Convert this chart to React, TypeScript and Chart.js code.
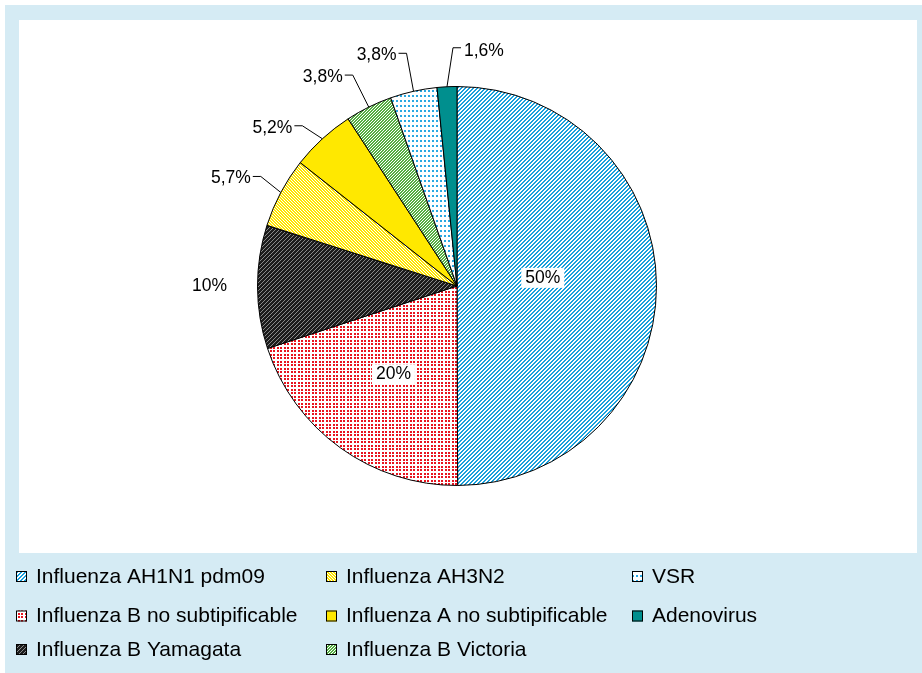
import React, { useEffect, useRef } from 'react';
import { Chart, registerables } from 'chart.js';

Chart.register(...registerables);

// ---- data ----
const categories = [
  'Influenza AH1N1 pdm09',
  'Influenza B no subtipificable',
  'Influenza B Yamagata',
  'Influenza AH3N2',
  'Influenza A no subtipificable',
  'Influenza B Victoria',
  'VSR',
  'Adenovirus',
];
const values = [50, 20, 10, 5.7, 5.2, 3.8, 3.8, 1.6];
const valueLabels = ['50%', '20%', '10%', '5,7%', '5,2%', '3,8%', '3,8%', '1,6%'];

// ---- label layout (relative to each arc) ----
type Layout =
  | { kind: 'inside'; r: number; dy: number }
  | { kind: 'outside'; r: number; dy: number }
  | { kind: 'leader'; elbow: [number, number]; side: number };
const labelLayout: Layout[] = [
  { kind: 'inside', r: 0.43, dy: -8 },
  { kind: 'inside', r: 0.545, dy: 0 },
  { kind: 'outside', r: 1.24, dy: -1 },
  { kind: 'leader', elbow: [-20, -16], side: -1 },
  { kind: 'leader', elbow: [-20, -13], side: -1 },
  { kind: 'leader', elbow: [-16, -32], side: -1 },
  { kind: 'leader', elbow: [-7, -38], side: -1 },
  { kind: 'leader', elbow: [6, -39], side: 1 },
];

const legendCols = [16, 326, 632];
const legendRows = [576, 615.5, 649];

function makePattern(w: number, h: number, bg: string, fg: string, test: (x: number, y: number) => boolean) {
  const c = document.createElement('canvas');
  c.width = w;
  c.height = h;
  const ctx = c.getContext('2d')!;
  ctx.fillStyle = bg;
  ctx.fillRect(0, 0, w, h);
  ctx.fillStyle = fg;
  for (let y = 0; y < h; y++) {
    for (let x = 0; x < w; x++) {
      if (test(x, y)) ctx.fillRect(x, y, 1, 1);
    }
  }
  return ctx.createPattern(c, 'repeat')!;
}

function buildFills() {
  return [
    makePattern(4, 4, '#ffffff', '#1aa0dc', (x, y) => (x + y) % 4 < 2),
    makePattern(7, 7, '#ffffff', '#e8141f', (x, y) => (x % 7 === 0 || x % 7 === 1 || x % 7 === 4 || x % 7 === 5) && (y % 7 === 0 || y % 7 === 1 || y % 7 === 4 || y % 7 === 5)),
    makePattern(4, 4, '#1c1c1c', '#8a8a8a', (x, y) => (x + y) % 4 === 0),
    makePattern(3, 3, '#ffe600', '#ffffff', (x, y) => (x - y + 9) % 3 === 0),
    '#ffe800',
    makePattern(3, 3, '#55ae42', '#ffffff', (x, y) => (x + y) % 3 === 0),
    makePattern(4, 5, '#ffffff', '#2aa8e2', (x, y) => x % 4 < 2 && y % 5 < 2),
    '#008f8e',
  ];
}

const LABEL_FONT = '17.5px "Liberation Sans", Arial, sans-serif';
const LEGEND_FONT = '21px "Liberation Sans", Arial, sans-serif';

const backgroundPlugin = {
  id: 'bgFrame',
  beforeDraw(chart: any) {
    const ctx = chart.ctx;
    ctx.save();
    ctx.fillStyle = '#ffffff';
    ctx.fillRect(0, 0, chart.width, chart.height);
    ctx.fillStyle = '#d5ebf4';
    ctx.fillRect(5, 5, chart.width - 5, chart.height - 5);
    ctx.fillStyle = '#ffffff';
    ctx.fillRect(19, 20, 898, 533);
    ctx.restore();
  },
};

const labelsPlugin = {
  id: 'pieLabels',
  afterDatasetsDraw(chart: any) {
    const ctx = chart.ctx;
    const meta = chart.getDatasetMeta(0);
    ctx.save();
    ctx.font = LABEL_FONT;
    ctx.textBaseline = 'middle';
    ctx.fillStyle = '#000';
    ctx.strokeStyle = '#000';
    ctx.lineWidth = 1;
    meta.data.forEach((arc: any, i: number) => {
      const p = arc.getProps(['x', 'y', 'startAngle', 'endAngle', 'outerRadius'], true);
      const mid = (p.startAngle + p.endAngle) / 2;
      const lay = labelLayout[i];
      const text = valueLabels[i];
      if (lay.kind === 'inside') {
        const lx = p.x + Math.cos(mid) * p.outerRadius * lay.r;
        const ly = p.y + Math.sin(mid) * p.outerRadius * lay.r + lay.dy;
        const w = ctx.measureText(text).width;
        ctx.fillStyle = '#fff';
        ctx.fillRect(lx - w / 2 - 4, ly - 10, w + 8, 20);
        ctx.fillStyle = '#000';
        ctx.textAlign = 'center';
        ctx.fillText(text, lx, ly);
      } else if (lay.kind === 'outside') {
        const lx = p.x + Math.cos(mid) * p.outerRadius * lay.r;
        const ly = p.y + Math.sin(mid) * p.outerRadius * lay.r + lay.dy;
        ctx.textAlign = 'center';
        ctx.fillText(text, lx, ly);
      } else {
        const ex = p.x + Math.cos(mid) * p.outerRadius;
        const ey = p.y + Math.sin(mid) * p.outerRadius;
        const bx = ex + lay.elbow[0];
        const by = ey + lay.elbow[1];
        const hx = bx + lay.side * 8;
        ctx.beginPath();
        ctx.moveTo(ex, ey);
        ctx.lineTo(bx, by);
        ctx.lineTo(hx, by);
        ctx.stroke();
        if (lay.side < 0) {
          ctx.textAlign = 'right';
          ctx.fillText(text, hx - 2, by + 2);
        } else {
          ctx.textAlign = 'left';
          ctx.fillText(text, hx + 3, by + 3);
        }
      }
    });
    ctx.restore();
  },
};

const legendPlugin = {
  id: 'colLegend',
  afterDraw(chart: any) {
    const ctx = chart.ctx;
    const fills = chart.data.datasets[0].backgroundColor;
    ctx.save();
    ctx.font = LEGEND_FONT;
    ctx.textBaseline = 'middle';
    ctx.textAlign = 'left';
    chart.data.labels.forEach((label: string, i: number) => {
      const col = Math.floor(i / legendRows.length);
      const row = i % legendRows.length;
      const x = legendCols[col];
      const y = legendRows[row];
      ctx.fillStyle = fills[i];
      ctx.fillRect(x, y - 5, 11, 11);
      ctx.strokeStyle = '#000';
      ctx.lineWidth = 1;
      ctx.strokeRect(x + 0.5, y - 4.5, 10, 10);
      ctx.fillStyle = '#000';
      ctx.fillText(label, x + 20, y + 1);
    });
    ctx.restore();
  },
};

export default function App() {
  const ref = useRef<HTMLCanvasElement | null>(null);
  useEffect(() => {
    if (!ref.current) return;
    const chart = new Chart(ref.current, {
      type: 'pie',
      data: {
        labels: categories,
        datasets: [
          {
            data: values,
            backgroundColor: buildFills() as any,
            borderColor: '#000',
            borderWidth: 1,
            clip: false as any,
          },
        ],
      },
      options: {
        responsive: false,
        animation: false,
        events: [],
        layout: { padding: { left: 257, right: 265, top: 86, bottom: 187 } },
        plugins: {
          legend: { display: false },
          tooltip: { enabled: false },
        },
      },
      plugins: [backgroundPlugin, labelsPlugin, legendPlugin],
    });
    return () => chart.destroy();
  }, []);
  return (
    <div style={{ position: 'fixed', left: 0, top: 0, width: 922, height: 673 }}>
      <canvas ref={ref} width={922} height={673} style={{ display: 'block', width: 922, height: 673 }} />
    </div>
  );
}
